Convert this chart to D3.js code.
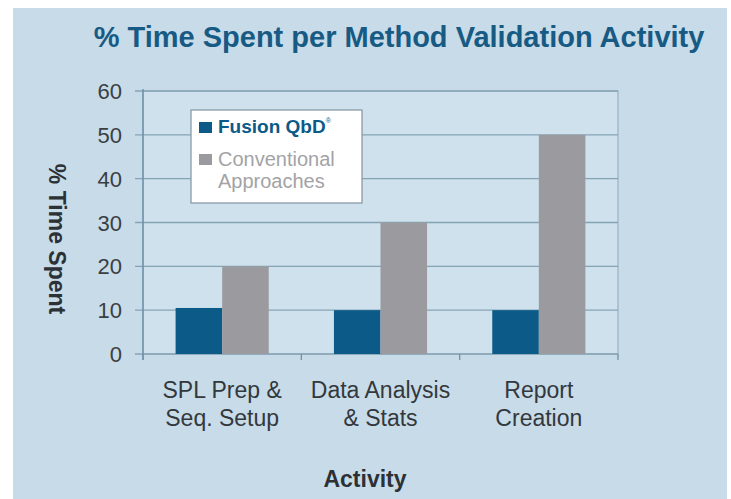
<!DOCTYPE html>
<html>
<head>
<meta charset="utf-8">
<script src="https://cdn.jsdelivr.net/npm/d3@7"></script>
<style>
  body { margin: 0; background: #fff; }
  svg text { font-family: "Liberation Sans", Arial, sans-serif; }
</style>
</head>
<body>
<svg></svg>
<script>
var categories = [["SPL Prep &", "Seq. Setup"], ["Data Analysis", "& Stats"], ["Report", "Creation"]];
var seriesNames = ["Fusion QbD", "Conventional Approaches"];
var fusion = [10.5, 10, 10];
var conventional = [20, 30, 50];
var yTicks = [0, 10, 20, 30, 40, 50, 60];

var width = 731,
  height = 499,
  colors = ["#0b5a88", "#9b9b9f"];

var svg = d3.select('svg')
  .attr('width', width)
  .attr('height', height);

// panel background
svg.append('rect')
  .attr('x', 13).attr('y', 8)
  .attr('width', 714).attr('height', 491)
  .attr('fill', '#c7dbe8');

var margin = {left: 143, right: 731 - 618, top: 91, bottom: 499 - 354};

var x = d3.scaleBand()
  .domain(d3.range(categories.length))
  .range([margin.left, width - margin.right])
  .paddingInner(0).paddingOuter(0);

var x1 = d3.scaleBand()
  .domain([0, 1])
  .range([0, x.bandwidth()])
  .paddingOuter(0.7);

var y = d3.scaleLinear()
  .domain([0, 60])
  .range([height - margin.bottom, margin.top]);

// plot area
svg.append('rect')
  .attr('x', margin.left).attr('y', margin.top)
  .attr('width', width - margin.left - margin.right)
  .attr('height', y(0) - margin.top)
  .attr('fill', '#cee1ed')
  .attr('stroke', '#8eaabb');

// grid
svg.append('g')
  .selectAll('line').data(yTicks).join('line')
  .attr('x1', margin.left - 8)
  .attr('x2', width - margin.right)
  .attr('y1', d => y(d)).attr('y2', d => y(d))
  .attr('stroke', '#86a3b5')
  .attr('stroke-width', 1.3);

// bars
var rows = categories.map((c, i) => [fusion[i], conventional[i]]);
svg.append('g')
  .selectAll('g').data(rows).join('g')
  .attr('transform', (d, i) => 'translate(' + x(i) + ',0)')
  .selectAll('rect').data(d => d).join('rect')
  .attr('x', (d, j) => x1(j))
  .attr('width', x1.bandwidth())
  .attr('y', d => y(d))
  .attr('height', d => y(0) - y(d))
  .attr('fill', (d, j) => colors[j]);

// y axis line
svg.append('line')
  .attr('x1', margin.left).attr('x2', margin.left)
  .attr('y1', margin.top - 2).attr('y2', y(0) + 6)
  .attr('stroke', '#6f93a8').attr('stroke-width', 1.5);

// x ticks at category boundaries
svg.append('g')
  .selectAll('line').data(d3.range(categories.length + 1)).join('line')
  .attr('x1', d => margin.left + d * x.bandwidth())
  .attr('x2', d => margin.left + d * x.bandwidth())
  .attr('y1', y(0)).attr('y2', y(0) + 6)
  .attr('stroke', '#6f93a8').attr('stroke-width', 1.3);

// y tick labels
svg.append('g')
  .selectAll('text').data(yTicks).join('text')
  .attr('x', 122)
  .attr('y', d => y(d) + 8)
  .attr('text-anchor', 'end')
  .attr('font-size', 22)
  .attr('fill', '#3a3f44')
  .text(d => d);

// category labels
var cat = svg.append('g')
  .selectAll('text').data(categories).join('text')
  .attr('text-anchor', 'middle')
  .attr('font-size', 23)
  .attr('fill', '#33383d');
cat.selectAll('tspan').data((d, i) => d.map(t => [t, i])).join('tspan')
  .attr('x', d => x(d[1]) + x.bandwidth() / 2)
  .attr('y', (d, k) => 398 + k * 28)
  .text(d => d[0]);

// axis titles
svg.append('text')
  .attr('x', 365).attr('y', 487)
  .attr('text-anchor', 'middle')
  .attr('font-size', 23).attr('font-weight', 'bold')
  .attr('fill', '#2c3136')
  .text('Activity');

svg.append('text')
  .attr('transform', 'translate(49,239) rotate(90)')
  .attr('text-anchor', 'middle')
  .attr('font-size', 23).attr('font-weight', 'bold')
  .attr('fill', '#2c3136')
  .text('% Time Spent');

// title
svg.append('text')
  .attr('x', 399).attr('y', 47)
  .attr('text-anchor', 'middle')
  .attr('font-size', 29).attr('font-weight', 'bold')
  .attr('fill', '#175a84')
  .text('% Time Spent per Method Validation Activity');

// legend
var lg = svg.append('g').attr('transform', 'translate(191,110)');
lg.append('rect')
  .attr('width', 171).attr('height', 93)
  .attr('fill', '#fff')
  .attr('stroke', '#8a9aa6').attr('stroke-width', 1.3);
lg.append('rect').attr('x', 8).attr('y', 12).attr('width', 13).attr('height', 11).attr('fill', colors[0]);
lg.append('rect').attr('x', 8).attr('y', 44).attr('width', 13).attr('height', 11).attr('fill', colors[1]);
var t0 = lg.append('text')
  .attr('x', 27).attr('y', 23)
  .attr('font-size', 19).attr('font-weight', 'bold')
  .attr('fill', colors[0])
  .text(seriesNames[0]);
t0.append('tspan').attr('font-size', 7).attr('font-weight', 'normal').attr('dy', -10).text('®');
lg.append('text')
  .attr('x', 27).attr('y', 56)
  .attr('font-size', 20)
  .attr('fill', '#a3a3a6')
  .text('Conventional');
lg.append('text')
  .attr('x', 27).attr('y', 78)
  .attr('font-size', 20)
  .attr('fill', '#a3a3a6')
  .text('Approaches');
</script>
</body>
</html>
